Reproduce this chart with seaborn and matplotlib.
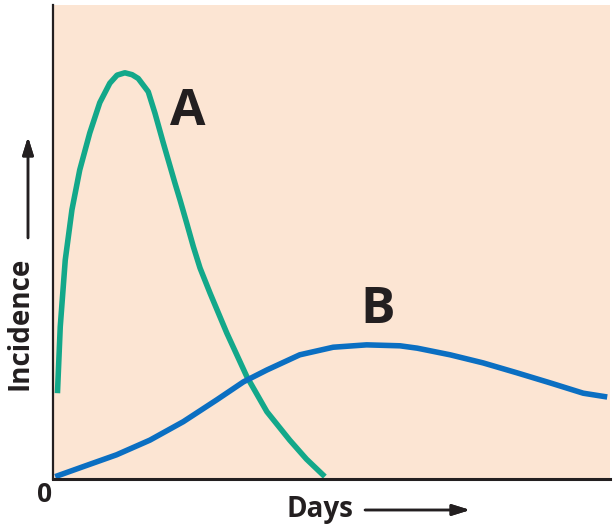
import numpy as np
import pandas as pd
import matplotlib.pyplot as plt
import seaborn as sns

# curve A: early, sharp peak (days, incidence in arbitrary units)
a_days = [0.08, 0.13, 0.22, 0.34, 0.48, 0.66, 0.84, 1.02, 1.15, 1.29, 1.42, 1.53,
          1.71, 1.83, 1.98, 2.19, 2.28, 2.40, 2.52, 2.64, 2.82, 3.12, 3.48, 3.84,
          4.25, 4.55, 4.88]
a_incidence = [1.81, 3.21, 4.62, 5.68, 6.52, 7.30, 7.94, 8.35, 8.52, 8.57, 8.53, 8.45,
               8.17, 7.72, 7.09, 6.24, 5.89, 5.40, 4.90, 4.45, 3.92, 3.08, 2.16, 1.42,
               0.82, 0.42, 0.05]

# curve B: slow, broad peak
b_days = [0.04, 0.54, 1.14, 1.74, 2.34, 2.94, 3.42, 3.84, 4.43, 5.03, 5.63, 6.23,
          6.54, 7.13, 7.72, 8.33, 8.92, 9.52, 9.95]
b_incidence = [0.05, 0.26, 0.51, 0.82, 1.21, 1.67, 2.05, 2.30, 2.62, 2.78, 2.83, 2.81,
               2.76, 2.62, 2.45, 2.24, 2.03, 1.81, 1.73]

GREEN = "#13a88a"
BLUE = "#0b6fc2"
PEACH = "#fce5d3"
DARK = "#231f20"

sns.set_theme(style="white")
plt.rcParams["font.family"] = ["Open Sans", "DejaVu Sans"]

fig = plt.figure(figsize=(6.16, 5.30), dpi=100)
ax = fig.add_axes([53 / 616, 51 / 530, 557 / 616, 474 / 530])
ax.set_facecolor(PEACH)

df_a = pd.DataFrame({"days": a_days, "incidence": a_incidence})
df_b = pd.DataFrame({"days": b_days, "incidence": b_incidence})
sns.lineplot(data=df_a, x="days", y="incidence", ax=ax, color=GREEN, lw=4.0,
             sort=False, solid_capstyle="butt", solid_joinstyle="round")
sns.lineplot(data=df_b, x="days", y="incidence", ax=ax, color=BLUE, lw=4.0,
             sort=False, solid_capstyle="butt", solid_joinstyle="round")

ax.set_xlim(0, 10)
ax.set_ylim(0, 10)
ax.set_xticks([])
ax.set_yticks([])
ax.set_xlabel("")
ax.set_ylabel("")
for side in ["top", "right"]:
    ax.spines[side].set_visible(False)
ax.spines["left"].set_color(DARK)
ax.spines["left"].set_linewidth(1.6)
ax.spines["bottom"].set_color(DARK)
ax.spines["bottom"].set_linewidth(2.2)

ax.text(2.42, 7.74, "A", fontsize=37, fontweight="bold", color=DARK,
        ha="center", va="center")
ax.text(5.83, 3.57, "B", fontsize=37, fontweight="bold", color=DARK,
        ha="center", va="center")

# axis labels with arrows, placed in figure pixels
def fx(px):
    return px / 616

def fy(py):
    return 1 - py / 530

fig.text(fx(45), fy(494), "0", fontsize=19, fontweight="bold", color=DARK,
         ha="center", va="center")
fig.text(fx(320), fy(517), "Days", fontsize=20, fontweight="bold", color=DARK,
         ha="center", va="baseline")
fig.text(fx(20), fy(323), "Incidence", fontsize=20, fontweight="bold", color=DARK,
         ha="center", va="center", rotation=90)

arrow = dict(arrowstyle="-|>,head_length=0.9,head_width=0.28", color=DARK, lw=1.8,
             shrinkA=0, shrinkB=0)
fig.add_artist(plt.annotate("", xy=(fx(470), fy(510)), xytext=(fx(365), fy(510)),
                            xycoords="figure fraction", arrowprops=arrow))
fig.add_artist(plt.annotate("", xy=(fx(28), fy(137)), xytext=(fx(28), fy(238)),
                            xycoords="figure fraction", arrowprops=arrow))

fig.savefig("out.png", dpi=100, facecolor="white")
